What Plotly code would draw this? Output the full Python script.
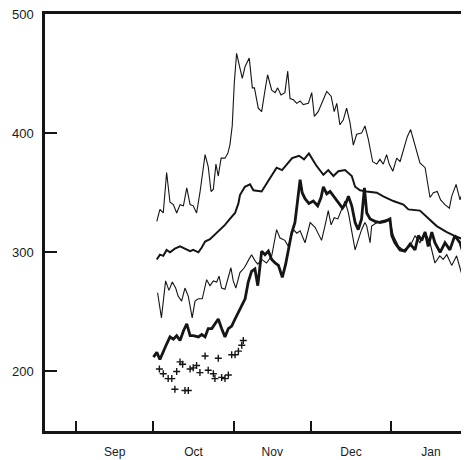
import pandas as pd
import plotly.graph_objects as go

# Days counted from 1 September
top_days = [31.3, 32.5, 33.8, 35.1, 36.4, 37.7, 39.0, 40.3, 41.6, 42.9, 44.2, 45.4, 46.7, 48.0, 50.0, 51.2,
            52.3, 53.2, 54.2, 55.1, 56.2, 57.7, 58.8, 59.6, 60.5, 61.3, 62.2, 63.2, 64.4, 65.5, 67.1, 68.3,
            69.1, 70.6, 71.9, 73.2, 74.2, 75.8, 77.1, 78.1, 79.4, 80.9, 82.0, 82.9, 84.2, 85.5, 86.8, 88.0,
            90.0, 91.3, 92.3, 93.8, 95.4, 97.1, 98.8, 100.0, 101.0, 102.2, 103.5, 104.8, 106.1, 107.0, 107.4,
            108.7, 110.6, 111.9, 113.2, 114.9, 116.5, 117.7, 119.0, 120.3, 121.3, 122.7, 124.2, 125.5, 126.8,
            128.3, 129.6, 131.3, 133.2, 135.2, 136.4, 137.1, 138.4, 139.9, 141.2, 142.9, 144.6, 145.5, 147.2,
            148.7, 150.7, 152.2]
top_vals = [326, 336, 333, 367, 342, 340, 333, 340, 339, 354, 340, 339, 333, 350, 382, 372,
            351, 353, 374, 364, 379, 379, 383, 390, 406, 442, 467, 457, 446, 456, 463, 438,
            438, 421, 418, 436, 449, 436, 434, 438, 432, 434, 452, 429, 428, 425, 427, 424,
            425, 434, 414, 418, 427, 435, 431, 418, 425, 407, 411, 421, 409, 395, 390,
            399, 400, 406, 395, 376, 374, 378, 374, 382, 374, 368, 379, 376, 386,
            397, 403, 389, 375, 371, 355, 346, 350, 351, 344, 340, 337, 347, 357,
            344, 357, 344]

mid_days = [31.3, 32.5, 33.8, 35.1, 36.4, 38.3, 40.3, 42.2, 44.2, 45.4, 47.4, 48.7, 50.0, 51.9, 53.8, 55.8,
            57.7, 59.6, 61.6, 62.9, 63.5, 65.4, 67.4, 68.7, 71.9, 74.5, 77.7, 79.8, 83.7, 86.4, 88.3, 90.2,
            93.0, 95.8, 97.7, 99.7, 101.6, 104.2, 106.8, 108.1, 110.0, 112.6, 116.5, 119.0, 122.9, 126.8,
            128.7, 133.2, 136.4, 139.7, 143.6, 147.4, 150.0, 152.2]
mid_vals = [294, 298, 297, 302, 300, 303, 305, 303, 301, 302, 300, 304, 309, 311, 315, 319,
            323, 328, 333, 341, 348, 355, 357, 352, 351, 360, 371, 369, 379, 381, 378, 383,
            373, 365, 369, 364, 368, 369, 364, 355, 352, 351, 350, 347, 343, 340,
            336, 335, 329, 322, 317, 313, 311, 309]

low_days = [31.6, 33.1, 34.7, 36.0, 37.3, 38.6, 39.6, 40.9, 42.2, 43.5, 45.0, 46.1, 47.4, 48.9, 50.6, 51.9,
            53.2, 54.5, 55.4, 56.4, 57.7, 59.0, 60.0, 60.9, 61.9, 63.5, 65.2, 66.7, 68.0, 69.3, 70.4, 71.9,
            73.8, 75.8, 77.7, 79.0, 80.9, 82.2, 84.2, 85.5, 86.8, 88.7, 90.7, 92.6, 93.8, 95.1, 96.4, 97.7,
            98.8, 100.0, 101.4, 102.9, 104.2, 105.5, 106.8, 108.1, 109.4, 110.6, 111.9, 112.6, 113.9, 114.5,
            115.8, 117.7, 119.7, 121.6, 122.9, 124.9, 126.8, 129.4, 131.3, 133.2, 135.2, 137.1, 139.0, 140.9,
            142.2, 143.6, 145.5, 147.4, 148.7, 150.0, 151.3, 152.2]
low_vals = [266, 245, 276, 268, 275, 270, 263, 259, 270, 263, 245, 259, 261, 261, 277, 272,
            276, 275, 280, 270, 269, 279, 287, 276, 270, 283, 287, 293, 298, 293, 290, 294,
            291, 297, 319, 312, 310, 305, 319, 316, 318, 308, 325, 321, 316, 310, 322, 335,
            323, 329, 328, 336, 343, 333, 318, 302, 311, 319, 325, 322, 308, 322,
            324, 326, 327, 326, 314, 305, 302, 305, 314, 308, 317, 308, 291, 297,
            294, 298, 289, 297, 287, 277, 289, 292]

bold_days = [30.0, 31.3, 32.5, 33.8, 35.1, 36.4, 37.7, 39.0, 40.3, 41.6, 42.9, 44.2, 45.4, 47.4, 48.7, 50.0,
             51.2, 52.6, 53.8, 55.1, 56.4, 57.7, 59.0, 60.3, 61.6, 62.9, 64.2, 65.5, 66.7, 68.0, 69.3, 70.4,
             71.3, 71.9, 73.2, 74.5, 75.8, 77.1, 78.4, 79.9, 81.2, 82.2, 83.5, 84.8, 85.8, 86.8, 87.6, 88.7,
             90.2, 91.9, 93.6, 94.9, 95.8, 97.1, 98.4, 99.7, 101.6, 103.2, 104.5, 105.5, 106.8, 108.1, 109.3,
             110.6, 111.7, 112.6, 113.9, 115.8, 117.7, 119.7, 121.6, 122.3, 123.5, 125.5, 127.4, 129.4, 131.3,
             132.6, 133.9, 135.2, 136.4, 137.8, 139.0, 141.0, 142.9, 144.8, 146.7, 148.7, 150.7, 152.2]
bold_vals = [212, 216, 210, 217, 223, 229, 227, 230, 226, 234, 240, 230, 230, 229, 231, 229,
             236, 236, 240, 244, 236, 229, 236, 238, 244, 250, 255, 261, 275, 284, 286, 272,
             289, 301, 298, 301, 294, 291, 289, 279, 290, 302, 316, 325, 344, 361, 350, 345,
             341, 343, 339, 346, 355, 349, 351, 347, 341, 337, 341, 347, 339, 325, 319,
             328, 354, 333, 328, 326, 325, 326, 328, 314, 308, 302, 301, 307, 302,
             314, 310, 317, 305, 317, 308, 300, 308, 302, 314, 308, 294, 297]

cross_days = [32.3, 33.8, 35.7, 37.1, 38.3, 39.0, 40.3, 41.3, 42.2, 43.5, 44.2, 45.4, 46.7, 48.0, 50.0,
              51.2, 53.2, 53.8, 55.1, 56.4, 57.7, 59.0, 60.3, 61.6, 62.9, 64.2, 64.8]
cross_vals = [202, 198, 194, 194, 185, 200, 208, 206, 184, 184, 202, 203, 205, 199, 213,
              201, 198, 194, 211, 195, 194, 197, 214, 214, 217, 222, 226]

base = pd.Timestamp("1983-09-01")


def to_dates(days):
    return base + pd.to_timedelta(days, unit="D")


ink = "#151515"
fig = go.Figure()
fig.add_trace(go.Scatter(x=to_dates(top_days), y=top_vals, mode="lines",
                         line=dict(color=ink, width=1.1)))
fig.add_trace(go.Scatter(x=to_dates(low_days), y=low_vals, mode="lines",
                         line=dict(color=ink, width=1.1)))
fig.add_trace(go.Scatter(x=to_dates(mid_days), y=mid_vals, mode="lines",
                         line=dict(color=ink, width=2)))
fig.add_trace(go.Scatter(x=to_dates(bold_days), y=bold_vals, mode="lines",
                         line=dict(color=ink, width=2.8)))
fig.add_trace(go.Scatter(x=to_dates(cross_days), y=cross_vals, mode="markers",
                         marker=dict(symbol="cross-thin", size=5, color=ink,
                                     line=dict(color=ink, width=1.4))))

# page body has an 8px default margin; figure sized to fit the window
fig.update_layout(
    width=461, height=452,
    margin=dict(l=37, r=0, t=6, b=29),
    plot_bgcolor="white", paper_bgcolor="white",
    showlegend=False,
    font=dict(family="Arial", size=13, color="#1a1a1a"),
)
fig.update_xaxes(
    type="date",
    range=[base + pd.Timedelta(days=-12.0), base + pd.Timedelta(days=152.2)],
    dtick="M1", tick0="1983-09-01", tickformat="%b", ticklabelmode="period",
    ticks="inside", ticklen=10, tickwidth=1.5, tickcolor=ink,
    showline=True, linewidth=3, linecolor=ink, mirror=True,
    showgrid=False, zeroline=False, ticklabelstandoff=8, automargin=False,
    ticklabeloverflow="allow", tickfont=dict(size=12),
)
fig.update_yaxes(
    range=[150, 500], tickvals=[200, 300, 400, 500],
    ticks="inside", ticklen=12, tickwidth=1.5, tickcolor=ink,
    showline=True, linewidth=2.5, linecolor=ink,
    showgrid=False, zeroline=False, ticklabelstandoff=6, automargin=False,
    ticklabeloverflow="allow", tickfont=dict(size=13),
)

fig.write_html("out.html")
